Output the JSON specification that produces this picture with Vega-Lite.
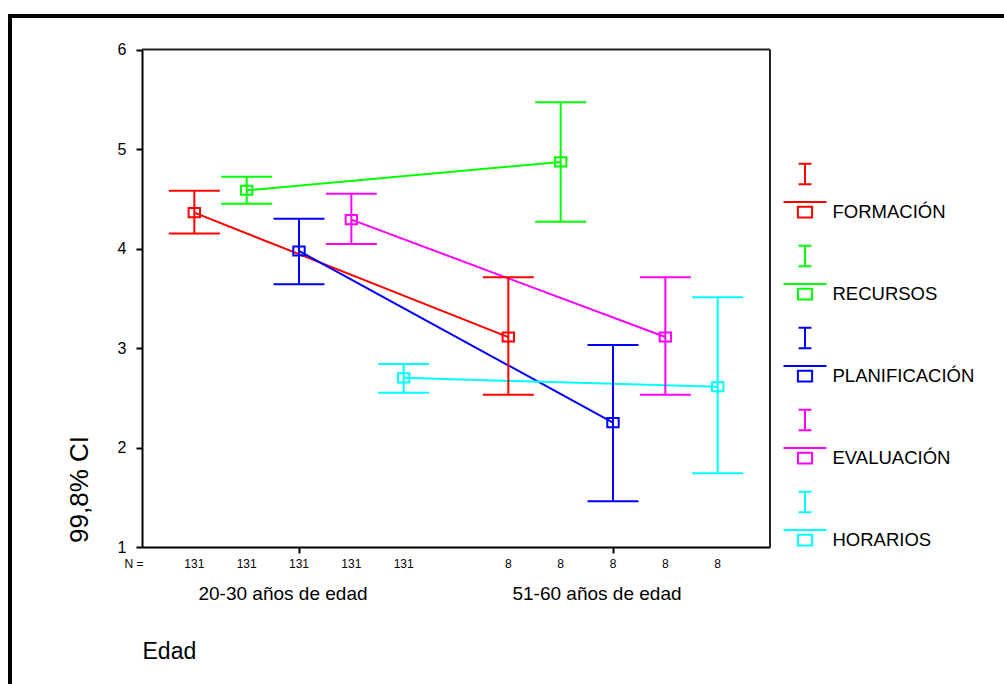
{
  "$schema": "https://vega.github.io/schema/vega-lite/v6.json",
  "width": 1000,
  "height": 680,
  "autosize": "none",
  "padding": {"left": 10, "top": 16, "right": 0, "bottom": 0},
  "background": "white",
  "config": {
    "font": "Liberation Sans",
    "view": {"stroke": "black", "strokeWidth": 4},
    "axis": {"grid": false}
  },
  "data": {
    "values": [
      {"edad": "20-30 años de edad", "var": "FORMACIÓN", "mean": 4.36, "lo": 4.15, "hi": 4.58, "n": 131},
      {"edad": "20-30 años de edad", "var": "RECURSOS", "mean": 4.585, "lo": 4.45, "hi": 4.72, "n": 131},
      {"edad": "20-30 años de edad", "var": "PLANIFICACIÓN", "mean": 3.975, "lo": 3.64, "hi": 4.3, "n": 131},
      {"edad": "20-30 años de edad", "var": "EVALUACIÓN", "mean": 4.29, "lo": 4.045, "hi": 4.55, "n": 131},
      {"edad": "20-30 años de edad", "var": "HORARIOS", "mean": 2.7, "lo": 2.55, "hi": 2.84, "n": 131},
      {"edad": "51-60 años de edad", "var": "FORMACIÓN", "mean": 3.11, "lo": 2.53, "hi": 3.71, "n": 8},
      {"edad": "51-60 años de edad", "var": "RECURSOS", "mean": 4.87, "lo": 4.27, "hi": 5.47, "n": 8},
      {"edad": "51-60 años de edad", "var": "PLANIFICACIÓN", "mean": 2.25, "lo": 1.46, "hi": 3.03, "n": 8},
      {"edad": "51-60 años de edad", "var": "EVALUACIÓN", "mean": 3.11, "lo": 2.53, "hi": 3.71, "n": 8},
      {"edad": "51-60 años de edad", "var": "HORARIOS", "mean": 2.61, "lo": 1.74, "hi": 3.51, "n": 8}
    ]
  },
  "encoding": {
    "x": {
      "field": "edad", "type": "nominal",
      "scale": {"range": [132, 760], "paddingInner": 0, "paddingOuter": 0},
      "axis": {
        "offset": -149, "title": "Edad", "labelAngle": 0,
        "domainColor": "black", "domainWidth": 2, "tickColor": "black", "tickWidth": 2, "tickSize": 6,
        "labelFontSize": 19, "labelColor": "black", "labelOffset": -16, "labelPadding": 40, "labelBaseline": "middle",
        "titleFontSize": 23, "titleFontWeight": "normal", "titleColor": "black",
        "titleX": 132, "titleY": 104.5, "titleAlign": "left", "titleBaseline": "middle", "titleAnchor": "start"
      }
    },
    "xOffset": {
      "field": "var", "type": "nominal",
      "scale": {"type": "point", "padding": 1.14, "domain": ["FORMACIÓN", "RECURSOS", "PLANIFICACIÓN", "EVALUACIÓN", "HORARIOS"]}
    },
    "color": {
      "field": "var", "type": "nominal",
      "scale": {"domain": ["FORMACIÓN", "RECURSOS", "PLANIFICACIÓN", "EVALUACIÓN", "HORARIOS"], "range": ["#ff0000", "#00ff00", "#0000ff", "#ff00ff", "#00ffff"]},
      "legend": {
        "orient": "none", "legendX": 772.5, "legendY": 173.5, "title": null,
        "symbolType": "M-1,-0.465H1M-0.33,-0.25H0.33V0.25H-0.33ZM-0.3,-2.25H0.3M0,-2.25V-1.29M-0.3,-1.29H0.3",
        "symbolSize": 1849, "symbolStrokeWidth": 2, "symbolOpacity": 1,
        "labelFontSize": 18.5, "labelColor": "black", "labelOffset": 5, "rowPadding": 20, "labelLimit": 300,
        "encode": {"symbols": {"update": {"fill": {"value": "transparent"}, "fillOpacity": {"value": 0}, "opacity": {"value": 1}}}}
      }
    }
  },
  "layer": [
    {
      "mark": {"type": "line", "strokeWidth": 2},
      "encoding": {
        "y": {
          "field": "mean", "type": "quantitative",
          "scale": {"domain": [1, 6], "range": [531, 33.5], "nice": false, "zero": false},
          "axis": {
            "offset": -132, "values": [1, 2, 3, 4, 5, 6], "format": "d", "title": "99,8% CI",
            "domainColor": "black", "domainWidth": 2, "tickColor": "black", "tickWidth": 2, "tickSize": 6,
            "labelFontSize": 16, "labelColor": "black", "labelPadding": 10,
            "titleFontSize": 26, "titleFontWeight": "normal", "titleColor": "black",
            "titleX": -63, "titleY": 473, "titleAngle": 270, "titleAlign": "center", "titleBaseline": "middle"
          }
        },
        "detail": {"field": "var"}
      }
    },
    {
      "mark": {"type": "rule", "strokeWidth": 2},
      "encoding": {
        "y": {"field": "lo", "type": "quantitative"},
        "y2": {"field": "hi"}
      }
    },
    {
      "mark": {"type": "tick", "size": 51, "thickness": 2, "opacity": 1},
      "encoding": {"y": {"field": "lo", "type": "quantitative"}}
    },
    {
      "mark": {"type": "tick", "size": 51, "thickness": 2, "opacity": 1},
      "encoding": {"y": {"field": "hi", "type": "quantitative"}}
    },
    {
      "mark": {"type": "point", "shape": "M-1,-0.8H1V0.8H-1Z", "size": 130, "filled": false, "strokeWidth": 2, "opacity": 1},
      "encoding": {"y": {"field": "mean", "type": "quantitative"}}
    },
    {
      "mark": {"type": "text", "fontSize": 12, "baseline": "middle", "color": "black"},
      "encoding": {
        "y": {"datum": 0.829},
        "text": {"field": "n"},
        "color": {"value": "black"}
      }
    },
    {
      "data": {"values": [{"t": "N ="}]},
      "mark": {"type": "text", "fontSize": 12, "baseline": "middle", "color": "black", "dx": -165},
      "encoding": {
        "x": {"datum": "20-30 años de edad"},
        "xOffset": null,
        "y": {"datum": 0.829},
        "text": {"field": "t"},
        "color": {"value": "black"}
      }
    },
    {
      "data": {"values": [{"a": "20-30 años de edad", "b": "51-60 años de edad"}]},
      "mark": {"type": "rule", "strokeWidth": 2, "color": "#222222"},
      "encoding": {
        "x": {"field": "a", "type": "nominal", "bandPosition": 0},
        "x2": {"field": "b", "bandPosition": 1},
        "xOffset": null,
        "y": {"datum": 6},
        "color": {"value": "#222222"}
      }
    },
    {
      "data": {"values": [{"b": "51-60 años de edad"}]},
      "mark": {"type": "rule", "strokeWidth": 2, "color": "#222222"},
      "encoding": {
        "x": {"field": "b", "type": "nominal", "bandPosition": 1},
        "xOffset": null,
        "y": {"datum": 1},
        "y2": {"datum": 6},
        "color": {"value": "#222222"}
      }
    }
  ]
}
